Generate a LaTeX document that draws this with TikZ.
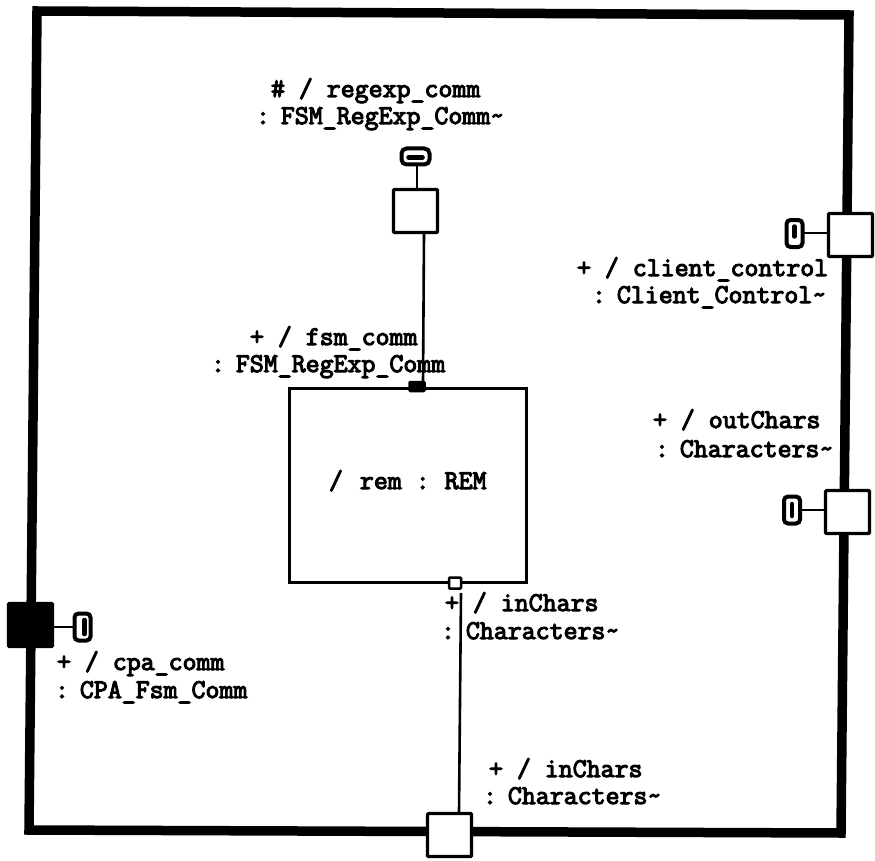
\documentclass[tikz,border=0pt]{standalone}
\usepackage{fontspec}
\setmonofont{Latin Modern Mono}[AutoFakeBold=4]
\newcommand{\cgap}{\hspace{-3pt}}
\begin{document}
\begin{tikzpicture}[x=1pt,y=-1pt,
  outer sep=0pt,
  frameline/.style={draw=black,line width=9.5pt,line join=miter},
  capsule/.style={draw=black,fill=white,line width=3.2pt,inner sep=0pt,minimum width=44pt,minimum height=43pt,anchor=north west,rounded corners=1pt},
  capsulefull/.style={capsule,fill=black},
  rembox/.style={draw=black,fill=white,line width=3pt,inner sep=0pt,minimum width=237pt,minimum height=194pt,anchor=north west},
  smallport/.style={draw=black,line width=2.5pt,inner sep=0pt,minimum width=12pt,minimum height=11pt,rounded corners=1pt},
  iconv/.style={draw=black,fill=white,line width=4pt,rounded corners=4pt,inner sep=0pt,minimum width=16pt,minimum height=27pt},
  iconh/.style={draw=black,fill=white,line width=4pt,rounded corners=5pt,inner sep=0pt,minimum width=28pt,minimum height=16pt},
  wire/.style={draw=black,line width=2.6pt},
  bar/.style={draw=black,line width=4.5pt,line cap=round},
  lab/.style={anchor=base west,inner sep=0pt,font=\fontsize{27.1pt}{28pt}\selectfont\ttfamily\bfseries},
]
\useasboundingbox (0,0) rectangle (875,861);
% outer frame (slightly skewed, as in the scan)
\coordinate (ftl) at (37,11);
\coordinate (ftr) at (849,15);
\coordinate (fbr) at (841,833);
\coordinate (fbl) at (29,830);
\draw[frameline] (ftl) -- (ftr) -- (fbr) -- (fbl) -- cycle;
% structure
\node[rembox] (rem) at (289,388.5) {};
\node[capsule] (regport) at (393.5,189.5) {};
\node[capsule] (clientport) at (828.5,213.5) {};
\node[capsule] (outport) at (825.5,490.5) {};
\node[capsule] (inport) at (427.5,813.5) {};
\node[capsulefull] (cpaport) at (8.5,603.5) {};
\node[smallport,fill=black,minimum width=15pt,minimum height=9pt] (fsmport) at (417,386.5) {};
\node[smallport,fill=white] (inner) at (455,583) {};
% icons
\node[iconh] (regicon) at (415.5,156.5) {};
\node[iconv] (clienticon) at (794.5,233.5) {};
\node[iconv] (outicon) at (792,510) {};
\node[iconv] (cpaicon) at (82.5,627) {};
\draw[bar] ([xshift=-7pt,yshift=-1pt]regicon.center) -- ([xshift=7pt,yshift=-1pt]regicon.center);
\draw[bar] ([yshift=-3pt]clienticon.center) -- ([yshift=7pt]clienticon.center);
\draw[bar] ([yshift=-6pt]outicon.center) -- ([yshift=6pt]outicon.center);
\draw[bar] ([xshift=2pt,yshift=-7pt]cpaicon.center) -- ([xshift=2pt,yshift=7pt]cpaicon.center);
% connectors
\coordinate (regfoot) at (424,234);
\coordinate (fsmtop) at (423,383);
\coordinate (innerfoot) at (461,593);
\coordinate (inportTop) at (459,812);
\coordinate (regiconfoot) at (417,166);
\coordinate (regporthead) at (417,188);
\coordinate (clienticonside) at (804,233);
\coordinate (clientportside) at (827,233);
\coordinate (outiconside) at (802,510);
\coordinate (outportside) at (824,510);
\coordinate (cpaportside) at (53,627);
\coordinate (cpaiconside) at (74,627);
\draw[wire] (regiconfoot) -- (regporthead);
\draw[wire] (regfoot) -- (fsmtop);
\draw[wire] (innerfoot) -- (inportTop);
\draw[wire] (clienticonside) -- (clientportside);
\draw[wire] (outiconside) -- (outportside);
\draw[wire] (cpaportside) -- (cpaiconside);
% labels
\node[lab] (l1) at (271,97) {\# / regexp\_comm};
\node[lab] (l2) at (256,124) {:\cgap{} FSM\_RegExp\_Comm\textasciitilde};
\node[lab] (l3) at (250,345) {+ / fsm\_comm};
\node[lab] (l4) at (211,372) {:\cgap{} FSM\_RegExp\_Comm};
\node[lab] (l5) at (329,489) {/\hspace{3pt} rem :\hspace{1pt} REM};
\node[lab] (l6) at (445,611) {+ / inChars};
\node[lab] (l7) at (441,639) {:\cgap{} Characters\textasciitilde};
\node[lab] (l8) at (489,777) {+ / inChars};
\node[lab] (l9) at (483,804) {:\cgap{} Characters\textasciitilde};
\node[lab] (l10) at (577,276) {+ / client\_control};
\node[lab] (l11) at (592,303) {:\cgap{} Client\_Control\textasciitilde};
\node[lab] (l12) at (653,428) {+ / outChars};
\node[lab] (l13) at (655,457) {:\cgap{} Characters\textasciitilde};
\node[lab] (l14) at (57,670) {+ / cpa\_comm};
\node[lab] (l15) at (55,698) {:\cgap{} CPA\_Fsm\_Comm};
\end{tikzpicture}
\end{document}
